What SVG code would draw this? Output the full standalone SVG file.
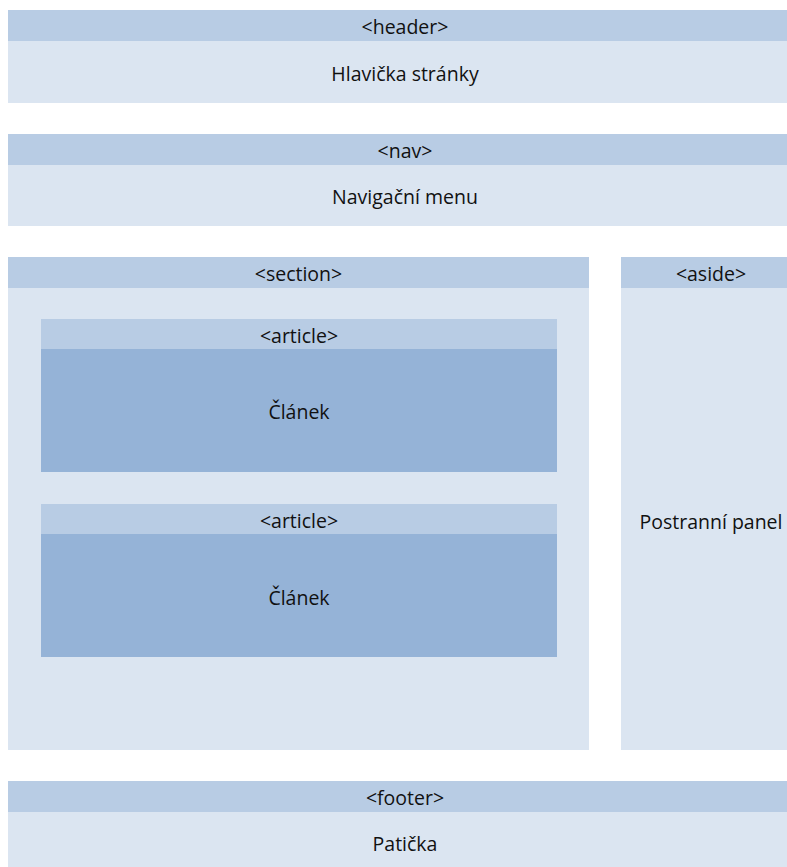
<svg xmlns="http://www.w3.org/2000/svg" width="787" height="867" viewBox="0 0 787 867">
<style>
.bar{fill:#B8CCE4}
.body{fill:#DBE5F1}
.dark{fill:#95B3D7}
text{font-family:"Open Sans","Noto Sans","Liberation Sans",sans-serif;font-size:19.5px;fill:#111111;text-anchor:middle;dominant-baseline:central}
</style>
<rect width="787" height="867" fill="#ffffff"/>
<g id="header">
<rect class="body" x="8" y="10" width="794" height="93"/>
<rect class="bar" x="8" y="10" width="794" height="31"/>
<text x="405" y="26">&lt;header&gt;</text>
<text x="405" y="73">Hlavička stránky</text>
</g>
<g id="nav">
<rect class="body" x="8" y="134" width="794" height="92"/>
<rect class="bar" x="8" y="134" width="794" height="31"/>
<text x="405" y="150">&lt;nav&gt;</text>
<text x="405" y="196">Navigační menu</text>
</g>
<g id="section">
<rect class="body" x="8" y="257" width="581" height="493"/>
<rect class="bar" x="8" y="257" width="581" height="31"/>
<text x="298.5" y="273">&lt;section&gt;</text>
</g>
<g id="article1">
<rect class="dark" x="41" y="319" width="516" height="153"/>
<rect class="bar" x="41" y="319" width="516" height="30"/>
<text x="299" y="335">&lt;article&gt;</text>
<text x="299" y="411">Článek</text>
</g>
<g id="article2">
<rect class="dark" x="41" y="504" width="516" height="153"/>
<rect class="bar" x="41" y="504" width="516" height="30"/>
<text x="299" y="520">&lt;article&gt;</text>
<text x="299" y="597">Článek</text>
</g>
<g id="aside">
<rect class="body" x="621" y="257" width="181" height="493"/>
<rect class="bar" x="621" y="257" width="181" height="31"/>
<text x="711" y="273">&lt;aside&gt;</text>
<text x="711" y="521">Postranní panel</text>
</g>
<g id="footer">
<rect class="body" x="8" y="781" width="794" height="90"/>
<rect class="bar" x="8" y="781" width="794" height="31"/>
<text x="405" y="797">&lt;footer&gt;</text>
<text x="405" y="843">Patička</text>
</g>
<g id="connectors"></g>
</svg>
